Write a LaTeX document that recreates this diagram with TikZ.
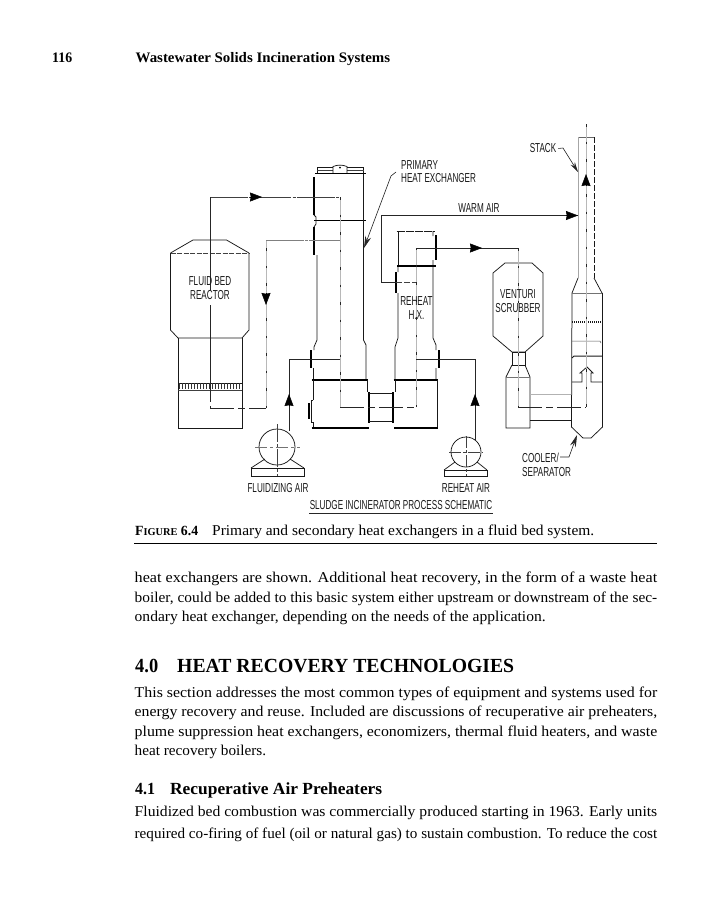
\documentclass[tikz,border=0pt]{standalone}
\usepackage{fontspec}
\usepackage{graphicx}
\usetikzlibrary{arrows.meta}
\setmainfont{Liberation Serif}
\newfontfamily\diagfont[FakeStretch=0.625]{Liberation Sans}
% one text line fitted to a width: name, x, width, baseline y, style, text
\newcommand{\fitline}[6]{\node[inner sep=0pt,anchor=base west] (#1) at (#2,#4) {\resizebox{#3pt}{\height}{#5#6}};}
\newcommand{\bodyfont}{\fontsize{15}{17}\selectfont}
\tikzset{
 x=1pt,y=-1pt,
 vessel/.style={line width=0.75pt,black!90},
 heavy/.style={line width=1.8pt,black},
 thin/.style={line width=0.5pt,black!75},
 centre/.style={line width=0.6pt,black!28,postaction={draw,line width=0.7pt,black!85,dash pattern=on 2.5pt off 15pt}},
 hdash/.style={line width=0.7pt,black!85,dash pattern=on 24pt off 4pt on 7pt off 4pt},
 flow/.style={line width=0.75pt,black!85},
 flowd/.style={line width=0.7pt,black!75,dash pattern=on 38pt off 1.2pt on 3pt off 1.2pt},
 tipline/.style={line width=0.5pt,-{Stealth[length=12pt,width=9pt,inset=0.8pt]}},
 lead/.style={line width=0.6pt,black!85},
 lab/.style={font=\diagfont\fontsize{13}{14}\selectfont,inner sep=0pt,text=black!90,align=center},
 labl/.style={lab,align=left,anchor=west},
}
\begin{document}
\begin{tikzpicture}
\useasboundingbox[fill=white] (0,0) rectangle (707,900);

% ---------- page head
\fitline{pageno}{52}{20}{62}{\bfseries\fontsize{14.5}{16}\selectfont}{116}
\fitline{running}{135.5}{254.5}{62}{\bfseries\fontsize{14.5}{16}\selectfont}{Wastewater Solids Incineration Systems}

% ---------- coordinates of the flow lines
\coordinate (fbA) at (210,197);
\coordinate (fbB) at (340,197);
\coordinate (fbC) at (340,407);
\coordinate (rtA) at (210,408);
\coordinate (rtB) at (266,408);
\coordinate (rtC) at (266,240);
\coordinate (rtD) at (340,240);
\coordinate (rhA) at (416,248);
\coordinate (rhB) at (518,248);
\coordinate (rhC) at (416,407);
\coordinate (waA) at (578,215.5);
\coordinate (waB) at (381,215.5);
\coordinate (waC) at (381,282.5);
\coordinate (waD) at (416,282.5);
\coordinate (faA) at (340,359);
\coordinate (faB) at (289,359);
\coordinate (faC) at (289,431);
\coordinate (raA) at (416,359);
\coordinate (raB) at (475,359);
\coordinate (raC) at (475,441);

% ---------- reactor
\draw[vessel] (170.5,253) -- (193,240) -- (226.5,240) -- (249,253);
\draw[vessel] (170.5,253) -- (170.5,330) -- (178,338) -- (242,338) -- (249,330) -- (249,253);
\draw[thin,dash pattern=on 5pt off 1.5pt] (170.5,253) -- (249,253);
\draw[vessel] (178,338) -- (178,428) -- (242,428) -- (242,338);
\draw[vessel] (178,383) -- (242,383);
\draw[thin] (178,390) -- (242,390);
\foreach \i in {0,...,20} {\draw[line width=0.7pt,black!80] ({179+\i*3},383) -- ({179+\i*3},389);}

% ---------- primary heat exchanger
\draw[vessel] (317,173.5) -- (317,167) -- (333,167);
\draw[vessel] (347,167) -- (363.5,167) -- (363.5,173.5);
\draw[thin] (317,170) -- (333,170) (347,170) -- (363.5,170);
\draw[vessel] (333,173) -- (333,166.5) to[bend left=20] (347,166.5) -- (347,173);
\fill (340,167.5) circle (1pt);
\draw[heavy] (315,173.5) -- (366,173.5);
\draw[heavy] (314,177) -- (314,215);
\draw[heavy] (314,227) -- (314,255);
\draw[heavy] (314,220.5) -- (366,220.5);
\draw[vessel] (314,215) -- (316,217) -- (316,224) -- (314,227);
\draw[vessel] (317,255) -- (317,340) -- (314,347) -- (314,350);
\draw[vessel] (313.5,368) -- (313.5,380);
\draw[vessel] (363.5,173.5) -- (363.5,340) -- (366,345) -- (366,380);
\draw[heavy,line width=1.2pt] (311,350) -- (311,368);
\draw[heavy] (311.5,380) -- (368,380);
\draw[vessel] (313,380) -- (313,400) (313,422) -- (313,428);
\draw[vessel] (367,380) -- (367,392);
\draw[heavy] (311.5,428) -- (369,428);
\draw[heavy,line width=1.1pt] (309,403) -- (309,419);
\draw[vessel] (313,400) -- (311,400) -- (311,422) -- (313,422);
\draw[heavy] (369,392) -- (369,423);
% duct between exchangers
\draw[vessel] (369,393) -- (393,393) (369,421) -- (393,421);

% ---------- reheat heat exchanger
\draw[vessel,dash pattern=on 8pt off 1pt,line width=1pt] (396.5,231) -- (435,231);
\draw[vessel] (398,231) -- (398,266);
\draw[vessel] (398,266) -- (398,272) (398,293) -- (398,338) -- (395,347) -- (395,380);
\draw[vessel] (433,231) -- (433,236) (433,260) -- (433,338) -- (436,345) -- (436,350) (436,368) -- (436,380);
\draw[heavy] (436,235) -- (436,260);
\draw[heavy] (397,266) -- (436,266);
\draw[heavy] (396,272) -- (396,293);
\draw[heavy] (439,350) -- (439,368);
\draw[heavy] (393.5,380) -- (438,380);
\draw[vessel] (395,380) -- (395,392);
\draw[vessel] (437,380) -- (437,428);
\draw[heavy] (394,428) -- (438,428);
\draw[heavy] (393,392) -- (393,423);

% ---------- venturi
\draw[vessel] (505,263) -- (532,263) -- (543,273) -- (543,336) -- (525,352) -- (512,352) -- (493,336) -- (493,273) -- cycle;
\draw[vessel] (512,352) rectangle (525,365);
\draw[vessel] (512,365) -- (506,377) -- (506,428) -- (530,428) -- (530,377) -- (525,365);
\draw[thin,black!55] (506,377) -- (530,377);
\draw[thin,black!30] (530,394) -- (571,394);
\draw[vessel] (530,420) -- (571,420);

% ---------- stack and cooler
\draw[thin,black!60] (578,137) -- (594,137);
\draw[thin,black!35] (578,137) -- (578,278);
\draw[vessel,dash pattern=on 6pt off 2pt] (594,137) -- (594,278);
\draw[vessel] (578,278) -- (572,293);
\draw[vessel] (594,278) -- (602,293);
\draw[vessel] (572,293) -- (571.5,427) -- (583,438) -- (591,438) -- (602.5,427) -- (602.5,293);
\draw[thin,black!55] (572,293) -- (602,293);
\draw[vessel,dash pattern=on 1.2pt off 0.8pt,line width=1.5pt] (572,322) -- (602,322);
\draw[thin,black!65] (572,341) -- (600,341) -- (601,343);
\draw[vessel,line width=1pt] (572,358) -- (574,356) -- (602,356);
\draw[vessel] (572,382) -- (582,382) -- (582,373) -- (580,373) -- (587,367) -- (593,373) -- (591,373) -- (591,382) -- (602,382);

% ---------- blowers
\draw[vessel] (277,447) circle (18);
\draw[vessel] (251,468) rectangle (304,476);
\draw[vessel] (251,468) -- (265,459) (304,468) -- (290,459);
\draw[thin,dash pattern=on 18pt off 2pt on 3pt off 2pt] (277,424) -- (277,476);
\draw[thin,black!55,dash pattern=on 12pt off 3pt on 3pt off 3pt] (255,447) -- (300,447);
\draw[vessel] (466,452) circle (15);
\draw[vessel] (444,470) rectangle (487,476);
\draw[vessel] (444,470) -- (455,462) (487,470) -- (477,462);
\draw[thin,dash pattern=on 12pt off 2pt on 3pt off 2pt] (466,436) -- (466,476);
\draw[thin,dash pattern=on 12pt off 2pt on 3pt off 2pt] (449,452) -- (483,452);

% ---------- flows
\draw[flowd] (fbA) -- (fbB);
\draw[flow] (fbA) -- (210,290) (210,305) -- (210,378);
\draw[hdash] (210,378) -- (rtA);
\draw[centre] (fbB) -- (fbC);
\draw[hdash] (fbC) -- (rhC);
\draw[hdash] (rtA) -- (rtB);
\draw[centre] (rtB) -- (rtC);
\draw[flowd,black!50] (rtC) -- (rtD);
\draw[flow] (waA) -- (waB) -- (waC) -- (396,282.5);
\draw[thin,dash pattern=on 6pt off 2pt] (396,282.5) -- (waD);
\draw[centre] (rhC) -- (rhA);
\draw[flow] (rhA) -- (rhB);
\draw[centre] (rhB) -- (518,407);
\draw[hdash] (518,407) -- (586,407);
\draw[centre] (586,124) -- (586,407);
\draw[flow] (faA) -- (faB) -- (faC);
\draw[flow] (raA) -- (raB) -- (raC);
% flow arrowheads
\draw[tipline] (250,197) -- (262,197);
\draw[tipline] (266,293) -- (266,305);
\draw[tipline] (470,248) -- (482,248);
\draw[tipline] (566,215.5) -- (578,215.5);
\draw[tipline] (586,186) -- (586,174);
\draw[tipline] (289,406) -- (289,394);
\draw[tipline] (475,406) -- (475,394);

% ---------- labels
\node[lab] (lfb) at (210,288.5) {FLUID BED\\[0pt]REACTOR};
\node[labl] (lph1) at (401,165) {PRIMARY};
\node[labl] (lph2) at (401,178) {HEAT EXCHANGER};
\node[lab] (lwa) at (479,208.5) {WARM AIR};
\node[lab] (lre) at (416.5,308.5) {REHEAT\\[0pt]H.X.};
\node[lab] (lve) at (518,301) {VENTURI\\[0pt]SCRUBBER};
\node[lab] (lst) at (543,148.5) {STACK};
\node[labl] (lco1) at (522,458) {COOLER/};
\node[labl] (lco2) at (522,472) {SEPARATOR};
\node[lab] (lfa) at (278,488) {FLUIDIZING AIR};
\node[lab] (lra) at (466,488) {REHEAT AIR};
\node[lab] (lsl) at (401,505) {SLUDGE INCINERATOR PROCESS SCHEMATIC};
\draw[lead] (309,513) -- (493,513);

% ---------- leaders
\coordinate (stB) at (563,148);
\coordinate (stC) at (578,172);
\coordinate (phA) at (396,172);
\coordinate (phB) at (391,176);
\coordinate (phC) at (364,248);
\coordinate (coA) at (569,457);
\coordinate (coB) at (577,435);
\draw[lead,-{Stealth[length=10pt,width=5pt]}] (lst.east) ++(2,0) -- (stB) -- (stC);
\draw[lead,-{Stealth[length=12pt,width=6pt]}] (phA) -- (phB) -- (phC);
\draw[lead,-{Stealth[length=12pt,width=6pt]}] (560,457) -- (coA) -- (coB);

% ---------- caption
\fitline{capa}{135}{63}{535}{\bfseries\fontsize{14}{16}\selectfont}{F{\fontsize{10.5}{13}\selectfont IGURE} 6.4}
\fitline{capb}{212}{382}{535}{\bodyfont}{Primary and secondary heat exchangers in a fluid bed system.}
\draw[line width=0.7pt] (134,543.5) -- (657,543.5);

% ---------- body
\fitline{p1}{134.5}{522.5}{582}{\bodyfont}{heat exchangers are shown. Additional heat recovery, in the form of a waste heat}
\fitline{p2}{134.5}{522.5}{602}{\bodyfont}{boiler, could be added to this basic system either upstream or downstream of the sec-}
\fitline{p3}{134.5}{411}{621}{\bodyfont}{ondary heat exchanger, depending on the needs of the application.}
\fitline{h1a}{135}{23}{672}{\bfseries\fontsize{20}{24}\selectfont}{4.0}
\fitline{h1b}{177}{337}{672}{\bfseries\fontsize{20}{24}\selectfont}{HEAT RECOVERY TECHNOLOGIES}
\fitline{q1}{134.5}{522.5}{697}{\bodyfont}{This section addresses the most common types of equipment and systems used for}
\fitline{q2}{134.5}{522.5}{716}{\bodyfont}{energy recovery and reuse. Included are discussions of recuperative air preheaters,}
\fitline{q3}{134.5}{522.5}{736}{\bodyfont}{plume suppression heat exchangers, economizers, thermal fluid heaters, and waste}
\fitline{q4}{134.5}{131.5}{755}{\bodyfont}{heat recovery boilers.}
\fitline{h2a}{135}{20}{794}{\bfseries\fontsize{17}{19}\selectfont}{4.1}
\fitline{h2b}{170}{212}{794}{\bfseries\fontsize{17}{19}\selectfont}{Recuperative Air Preheaters}
\fitline{r1}{134.5}{522.5}{816}{\bodyfont}{Fluidized bed combustion was commercially produced starting in 1963. Early units}
\fitline{r2}{134.5}{522.5}{838}{\bodyfont}{required co-firing of fuel (oil or natural gas) to sustain combustion. To reduce the cost}
\end{tikzpicture}
\end{document}
